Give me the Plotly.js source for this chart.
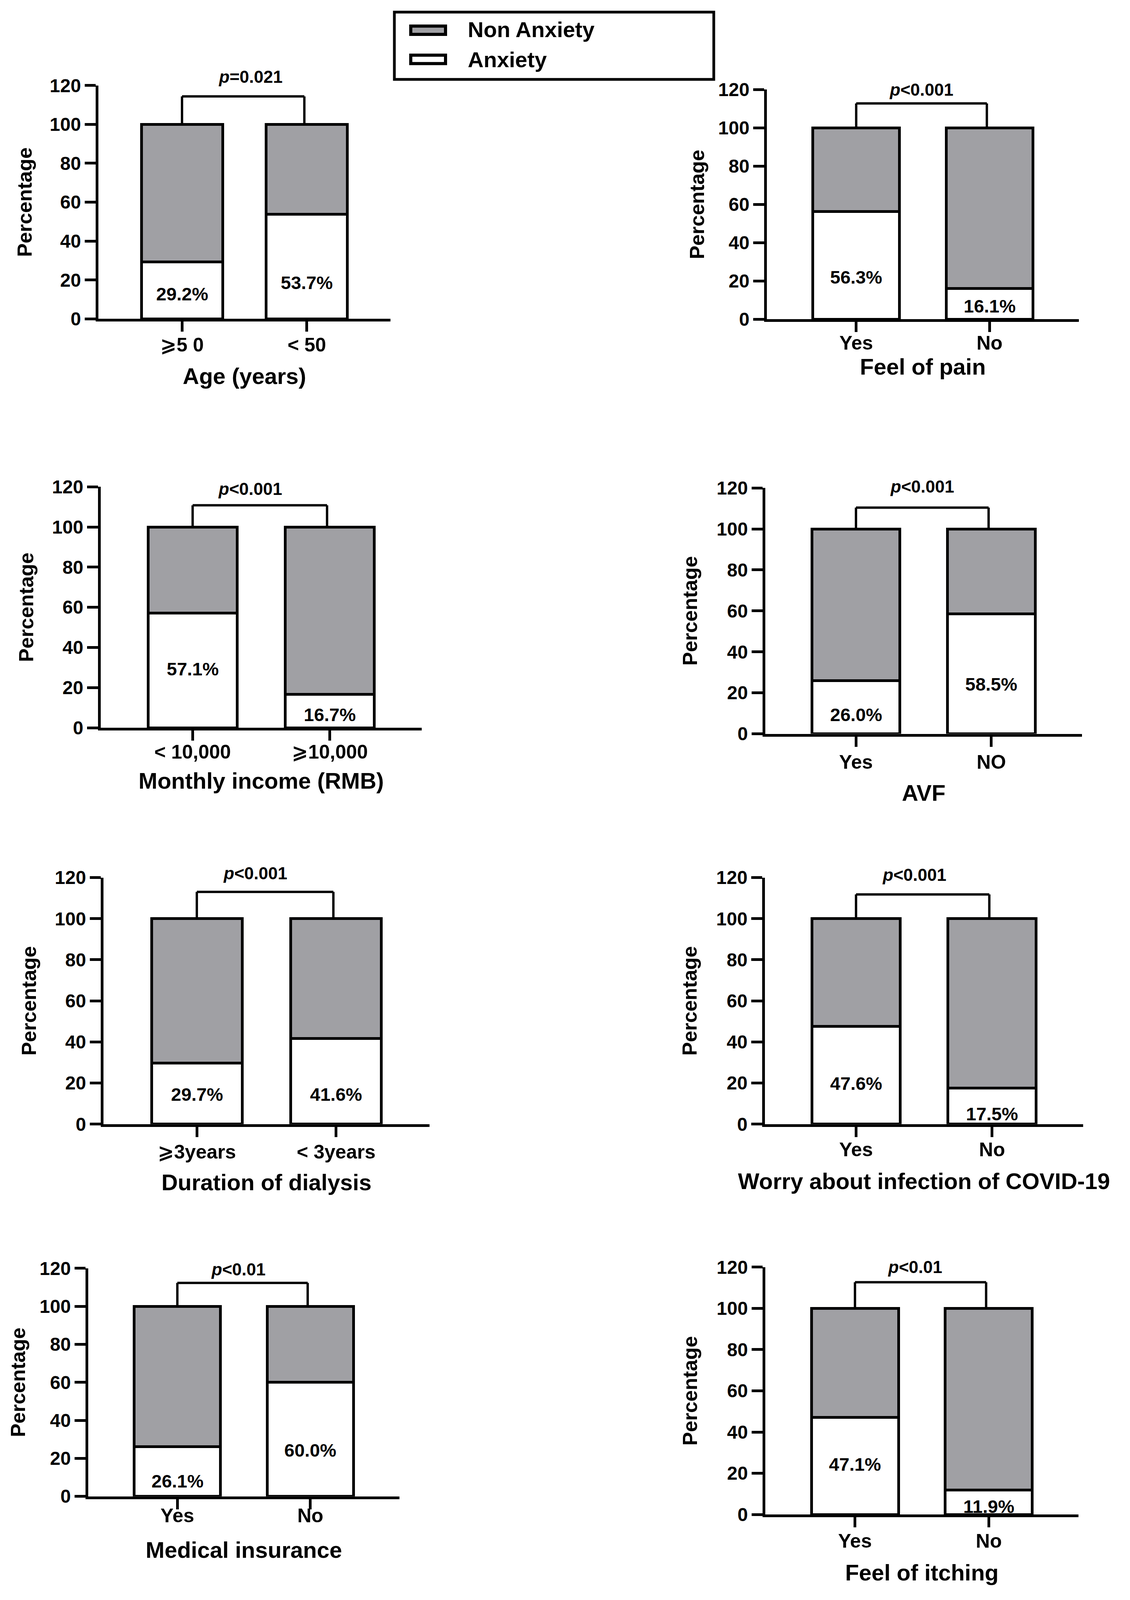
<!DOCTYPE html>
<html>
<head>
<meta charset="utf-8">
<script src="https://cdn.plot.ly/plotly-3.0.1.min.js"></script>
<style>html,body{margin:0;padding:0;background:#fff;overflow:hidden;}#chart{width:100vw;height:100vh;}</style>
</head>
<body>
<div id="chart"></div>
<script>
// ---------------- data ----------------
const panelTitles = ["Age (years)", "Feel of pain", "Monthly income (RMB)", "AVF",
                     "Duration of dialysis", "Worry about infection of COVID-19",
                     "Medical insurance", "Feel of itching"];
const categories = [
  ["⩾5 0", "< 50"],
  ["Yes", "No"],
  ["< 10,000", "⩾10,000"],
  ["Yes", "NO"],
  ["⩾3years", "< 3years"],
  ["Yes", "No"],
  ["Yes", "No"],
  ["Yes", "No"]
];
const anxiety    = [[29.2, 53.7], [56.3, 16.1], [57.1, 16.7], [26.0, 58.5],
                    [29.7, 41.6], [47.6, 17.5], [26.1, 60.0], [47.1, 11.9]];
const nonAnxiety = [[70.8, 46.3], [43.7, 83.9], [42.9, 83.3], [74.0, 41.5],
                    [70.3, 58.4], [52.4, 82.5], [73.9, 40.0], [52.9, 88.1]];
const pValueText = ["=0.021", "<0.001", "<0.001", "<0.001", "<0.001", "<0.001", "<0.01", "<0.01"];
const seriesNames = ["Anxiety", "Non Anxiety"];
const yTickVals = [0, 20, 40, 60, 80, 100, 120];
const yAxisTitle = "Percentage";

// ---------------- layout geometry (reference page pixels, 2894x4230) ----------------
const RW = 2894, RH = 4230;
const W = window.innerWidth || RW, H = window.innerHeight || RH;
const FONT = "Liberation Sans, Arial, DejaVu Sans, sans-serif";
const GRAY = "#a0a0a4";
const frames = [
  {x0: 252, x1: 1000, yb: 843,  yt: 226,  lab: [12.8, 18.7], px: 0.55, py: 124.4, bt: 114.4, tickSO: -9,  titleSO: 35, ySO: 32},
  {x0: 1964, x1: 2763, yb: 844, yt: 237,  lab: [21.9, 6.9],  px: 0.49, py: 120.0, bt: 112.8, tickSO: -15, titleSO: 12, ySO: 22},
  {x0: 258, x1: 1080, yb: 1924, yt: 1287, lab: [29.2, 6.5],  px: 0.42, py: 119.0, bt: 110.8, tickSO: -14, titleSO: 29, ySO: 34},
  {x0: 1960, x1: 2771, yb: 1940, yt: 1290, lab: [9.4, 24.2],  px: 0.49, py: 120.6, bt: 110.4, tickSO: -4,  titleSO: 34, ySO: 36},
  {x0: 265, x1: 1100, yb: 2972, yt: 2320, lab: [14.5, 14.5], px: 0.42, py: 122.0, bt: 113.0, tickSO: -5,  titleSO: 33, ySO: 34},
  {x0: 1959, x1: 2774, yb: 2972, yt: 2320, lab: [19.9, 5.0],  px: 0.43, py: 121.4, bt: 111.8, tickSO: -11, titleSO: 36, ySO: 36},
  {x0: 226, x1: 1023, yb: 3956, yt: 3353, lab: [8.0, 24.3],  px: 0.46, py: 119.5, bt: 112.3, tickSO: -27, titleSO: 43, ySO: 23},
  {x0: 1960, x1: 2762, yb: 4004, yt: 3350, lab: [24.4, 3.9],  px: 0.45, py: 120.0, bt: 112.7, tickSO: -8,  titleSO: 36, ySO: 36}
];
const fx = v => v / RW, fy = v => 1 - v / RH;

const traces = [];
const layout = {
  width: W, height: H,
  margin: {l: 0, r: 0, t: 0, b: 0},
  paper_bgcolor: "#fff", plot_bgcolor: "rgba(0,0,0,0)",
  barmode: "stack", showlegend: false,
  font: {family: FONT, color: "#000"},
  shapes: [], annotations: []
};

frames.forEach((f, i) => {
  const n = i + 1;
  const xa = n === 1 ? "x" : "x" + n;
  const ya = n === 1 ? "y" : "y" + n;
  const xKey = n === 1 ? "xaxis" : "xaxis" + n;
  const yKey = n === 1 ? "yaxis" : "yaxis" + n;

  traces.push({
    type: "bar", name: seriesNames[0], x: categories[i], y: anxiety[i],
    xaxis: xa, yaxis: ya, width: 0.65,
    marker: {color: "#ffffff", line: {color: "#000", width: 7}},
    hoverinfo: "skip"
  });
  traces.push({
    type: "bar", name: seriesNames[1], x: categories[i], y: nonAnxiety[i],
    xaxis: xa, yaxis: ya, width: 0.65,
    marker: {color: GRAY, line: {color: "#000", width: 7}},
    hoverinfo: "skip"
  });

  layout[xKey] = {
    domain: [fx(f.x0), fx(f.x1)], anchor: ya, type: "category",
    range: [-0.67, 1.67], showgrid: false, zeroline: false,
    showline: true, linecolor: "#000", linewidth: 7,
    ticks: "outside", ticklen: 26, tickwidth: 7, tickcolor: "#000",
    ticklabelstandoff: f.tickSO,
    tickfont: {family: FONT, size: 50, weight: "bold", color: "#000"},
    title: {text: panelTitles[i], standoff: f.titleSO,
            font: {family: FONT, size: 58, weight: "bold", color: "#000"}},
    fixedrange: true
  };
  layout[yKey] = {
    domain: [fy(f.yb), fy(f.yt)], anchor: xa,
    range: [0, 120], tickvals: yTickVals, showgrid: false, zeroline: false,
    showline: true, linecolor: "#000", linewidth: 7,
    ticks: "outside", ticklen: 28, tickwidth: 7, tickcolor: "#000",
    tickfont: {family: FONT, size: 48, weight: "bold", color: "#000"},
    title: {text: yAxisTitle, standoff: f.ySO,
            font: {family: FONT, size: 52, weight: "bold", color: "#000"}},
    fixedrange: true
  };

  // significance bracket
  const legBottom = 100.5;
  layout.shapes.push(
    {type: "line", xref: xa, yref: ya, x0: 0, x1: 0, y0: legBottom, y1: f.bt, line: {color: "#000", width: 6}},
    {type: "line", xref: xa, yref: ya, x0: 0, x1: 0.98, y0: f.bt, y1: f.bt, line: {color: "#000", width: 6}},
    {type: "line", xref: xa, yref: ya, x0: 0.98, x1: 0.98, y0: f.bt, y1: legBottom, line: {color: "#000", width: 6}}
  );
  // p value above the bracket (paper y, since it sits above the axis range)
  layout.annotations.push({
    xref: xa, yref: "paper", x: f.px, y: fy(f.yb - (f.yb - f.yt) * f.py / 120),
    yanchor: "middle", showarrow: false,
    text: "<i>p</i>" + pValueText[i],
    font: {family: FONT, size: 44, weight: "bold", color: "#000"}
  });
  // value labels in the anxiety segments
  categories[i].forEach((c, j) => {
    layout.annotations.push({
      xref: xa, yref: ya, x: c, y: f.lab[j], showarrow: false,
      text: anxiety[i][j].toFixed(1) + "%",
      font: {family: FONT, size: 47, weight: "bold", color: "#000"}
    });
  });
});

// legend box drawn with shapes + text
layout.shapes.push(
  {type: "rect", xref: "paper", yref: "paper", x0: fx(1010), x1: fx(1828), y0: fy(210), y1: fy(32),
   line: {color: "#000", width: 7}, fillcolor: "rgba(0,0,0,0)"},
  {type: "rect", xref: "paper", yref: "paper", x0: fx(1052), x1: fx(1141), y0: fy(91), y1: fy(69),
   line: {color: "#000", width: 8}, fillcolor: GRAY},
  {type: "rect", xref: "paper", yref: "paper", x0: fx(1052), x1: fx(1141), y0: fy(168), y1: fy(146),
   line: {color: "#000", width: 8}, fillcolor: "#fff"}
);
layout.annotations.push(
  {xref: "paper", yref: "paper", x: fx(1196), y: fy(78), xanchor: "left", yanchor: "middle", showarrow: false,
   text: seriesNames[1], font: {family: FONT, size: 56, weight: "bold", color: "#000"}},
  {xref: "paper", yref: "paper", x: fx(1196), y: fy(157), xanchor: "left", yanchor: "middle", showarrow: false,
   text: seriesNames[0], font: {family: FONT, size: 56, weight: "bold", color: "#000"}}
);

Plotly.newPlot("chart", traces, layout, {staticPlot: true, displayModeBar: false});
</script>
</body>
</html>
